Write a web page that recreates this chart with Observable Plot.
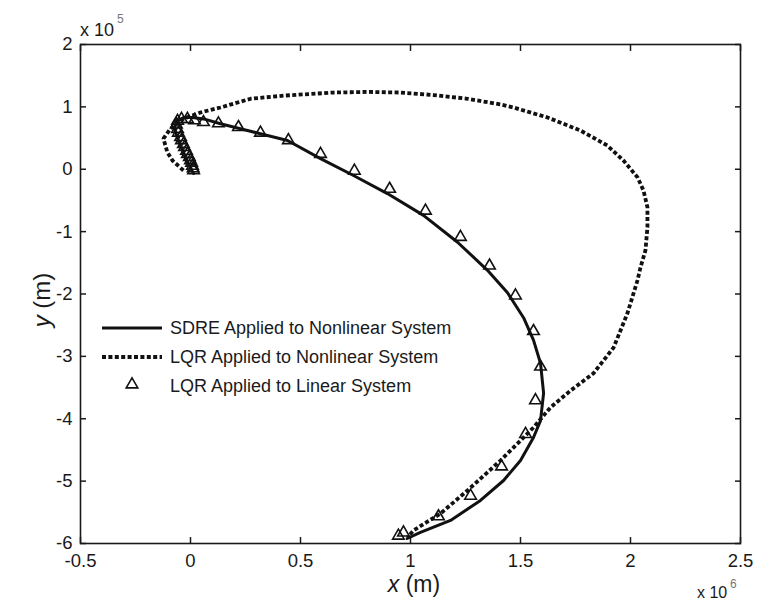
<!DOCTYPE html>
<html><head><meta charset="utf-8">
<script src="https://cdn.jsdelivr.net/npm/d3@7"></script>
<script src="https://cdn.jsdelivr.net/npm/@observablehq/plot@0.6"></script>
<style>body{margin:0;background:#fff;font-family:"Liberation Sans",Arial,sans-serif}</style>
</head><body><div id="chart"></div>
<script>
// x in units of 1e6 m, y in units of 1e5 m
const sdreX = [0.014,-0.018,-0.055,-0.073,-0.064,-0.032,0.009,0.068,0.136,0.227,0.318,0.441,0.591,0.741,0.895,1.059,1.214,1.35,1.441,1.514,1.559,1.591,1.605,1.591,1.559,1.50,1.423,1.318,1.182,1.045,0.985];
const sdreY = [-0.068,0.14,0.46,0.65,0.76,0.83,0.83,0.80,0.73,0.65,0.57,0.46,0.17,-0.10,-0.39,-0.74,-1.17,-1.62,-1.98,-2.38,-2.74,-3.11,-3.59,-4.03,-4.30,-4.67,-4.99,-5.31,-5.63,-5.82,-5.92];
const lqrNlX = [-0.032,-0.082,-0.105,-0.123,-0.091,-0.032,0.045,0.136,0.273,0.423,0.65,0.805,0.955,1.105,1.259,1.409,1.468,1.623,1.773,1.895,1.968,2.032,2.059,2.077,2.077,2.068,2.045,2.032,1.986,1.923,1.832,1.727,1.636,1.559,1.514,1.409,1.259,1.136,1.014,0.986];
const lqrNlY = [-0.02,0.14,0.27,0.49,0.65,0.81,0.91,0.99,1.13,1.18,1.23,1.24,1.23,1.19,1.13,1.04,0.99,0.83,0.62,0.38,0.14,-0.13,-0.34,-0.61,-0.93,-1.30,-1.58,-1.78,-2.31,-2.86,-3.27,-3.55,-3.82,-4.14,-4.30,-4.67,-5.15,-5.52,-5.79,-5.90];
const lqrLinX = [0.014,0.012,0.009,0.005,0.0,-0.005,-0.014,-0.018,-0.027,-0.032,-0.041,-0.045,-0.055,-0.059,-0.064,-0.059,-0.041,-0.014,0.018,0.059,0.127,0.218,0.318,0.445,0.591,0.745,0.905,1.068,1.227,1.359,1.477,1.559,1.591,1.568,1.523,1.414,1.273,1.127,0.968,0.945];
const lqrLinY = [-0.04,-0.01,0.03,0.08,0.12,0.17,0.22,0.27,0.33,0.38,0.44,0.49,0.56,0.62,0.69,0.75,0.78,0.78,0.76,0.73,0.71,0.65,0.56,0.44,0.22,-0.05,-0.34,-0.69,-1.11,-1.57,-2.05,-2.62,-3.19,-3.73,-4.27,-4.79,-5.26,-5.59,-5.85,-5.90];
const xTicks = [-0.5,0,0.5,1,1.5,2,2.5];
const yTicks = [-6,-5,-4,-3,-2,-1,0,1,2];
const seriesNames = ["SDRE Applied to Nonlinear System","LQR Applied to Nonlinear System","LQR Applied to Linear System"];

const FONT = "Liberation Sans, Arial, sans-serif";
const ink = "#1a1a1a";
const fmt = d => String(d);

const chart = Plot.plot({
  width: 765, height: 601,
  marginLeft: 80, marginRight: 25, marginTop: 44, marginBottom: 58,
  style: {fontFamily: FONT, fontSize: "18px", color: ink, background: "#fff"},
  x: {domain: [-0.5, 2.5]},
  y: {domain: [-6, 2]},
  marks: [
    Plot.axisX(xTicks, {anchor: "bottom", tickSize: 0, tickPadding: 10, tickFormat: fmt, fontSize: 18.5, label: null}),
    Plot.axisX(xTicks, {anchor: "bottom", tickSize: 6, dy: -6, tickFormat: () => "", label: null, strokeWidth: 1.5}),
    Plot.axisX(xTicks, {anchor: "top", tickSize: 6, dy: 6, tickFormat: () => "", label: null, strokeWidth: 1.5}),
    Plot.axisY(yTicks, {anchor: "left", tickSize: 0, tickPadding: 8, tickFormat: fmt, fontSize: 18.5, label: null}),
    Plot.axisY(yTicks, {anchor: "left", tickSize: 6, dx: 6, tickFormat: () => "", label: null, strokeWidth: 1.5}),
    Plot.axisY(yTicks, {anchor: "right", tickSize: 6, dx: -6, tickFormat: () => "", label: null, strokeWidth: 1.5}),
    Plot.frame({stroke: ink, strokeWidth: 1.6}),
    Plot.line({length: lqrNlX.length}, {x: lqrNlX, y: lqrNlY, stroke: "#111", strokeWidth: 3.8, strokeDasharray: "4,2.4", strokeLinecap: "butt", strokeLinejoin: "miter"}),
    Plot.line({length: sdreX.length}, {x: sdreX, y: sdreY, stroke: "#111", strokeWidth: 3}),
    Plot.dot({length: lqrLinX.length}, {x: lqrLinX, y: lqrLinY, symbol: "triangle", r: 4.3, dy: -1.5, stroke: "#111", strokeWidth: 1.6, fill: "none"})
  ]
});
document.getElementById("chart").appendChild(chart);

const svg = d3.select(chart);
const g = svg.append("g").attr("font-family", FONT).attr("fill", ink).attr("text-anchor", "start");
// exponent labels
g.append("text").attr("x", 80).attr("y", 36).attr("font-size", 18).text("x 10");
g.append("text").attr("x", 117).attr("y", 23).attr("font-size", 12).attr("fill", "#777").text("5");
g.append("text").attr("x", 697).attr("y", 598).attr("font-size", 16).text("x 10");
g.append("text").attr("x", 730).attr("y", 588).attr("font-size", 12).attr("fill", "#777").text("6");
// axis labels
const xl = g.append("text").attr("x", 414).attr("y", 592).attr("text-anchor", "middle").attr("font-size", 23);
xl.append("tspan").attr("font-style", "italic").text("x");
xl.append("tspan").text(" (m)");
const yl = g.append("text").attr("transform", "translate(50,300) rotate(-90)").attr("text-anchor", "middle").attr("font-size", 24);
yl.append("tspan").attr("font-style", "italic").text("y");
yl.append("tspan").text(" (m)");
// legend
const lg = svg.append("g").attr("font-family", FONT).attr("font-size", 18).attr("fill", ink).attr("text-anchor", "start");
const rowY = [328, 357, 386];
lg.append("line").attr("x1", 102).attr("x2", 162).attr("y1", rowY[0]).attr("y2", rowY[0]).attr("stroke", "#111").attr("stroke-width", 3);
lg.append("line").attr("x1", 102).attr("x2", 162).attr("y1", rowY[1]).attr("y2", rowY[1]).attr("stroke", "#111").attr("stroke-width", 3.8).attr("stroke-dasharray", "4,2.4");
lg.append("path").attr("d", d3.symbol(d3.symbolTriangle, Math.PI * 4.3 * 4.3)()).attr("transform", `translate(132,${rowY[2] - 1.5})`).attr("fill", "none").attr("stroke", "#111").attr("stroke-width", 1.6);
seriesNames.forEach((s, i) => {
  lg.append("text").attr("x", 170).attr("y", rowY[i] + 6).text(s);
});
</script>
</body></html>
